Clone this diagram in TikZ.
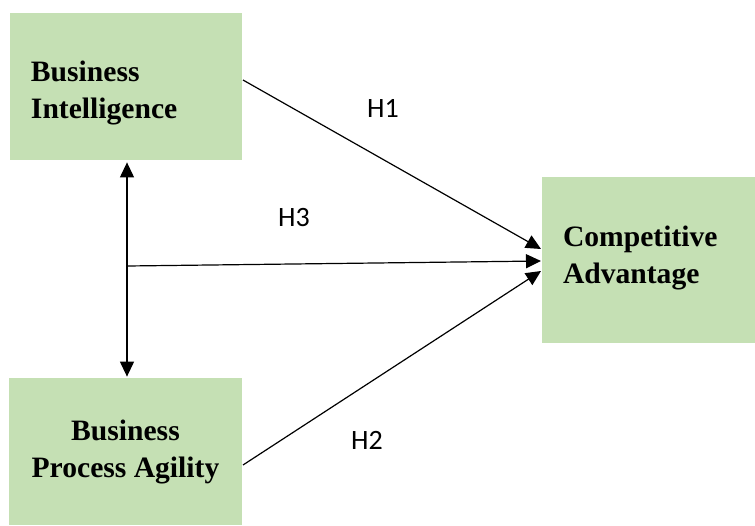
\documentclass[tikz,border=0pt]{standalone}
\usepackage{fontspec}
\setmainfont{Liberation Serif}
\newfontfamily\labelfont{Carlito}
\usetikzlibrary{arrows.meta,calc}
\definecolor{boxgreen}{HTML}{C5E0B4}

\begin{document}
\begin{tikzpicture}[x=0.5pt,y=-0.5pt,
    var/.style={rectangle,fill=boxgreen,inner ysep=0pt,
      font=\fontsize{14.8}{18.5}\selectfont\bfseries},
    hyp/.style={font=\labelfont\fontsize{14}{16}\selectfont},
    link/.style={line width=0.6pt,-{Triangle[length=7.5pt,width=7pt]}}]
    \useasboundingbox(0,0)rectangle(755,525);
    % constructs
    \node[var,minimum width=116pt,minimum height=73.5pt,inner xsep=10.5pt,
      text width=95pt,align=left](BI) at (126,86.5){\rule{0pt}{16.5pt}Business\\Intelligence};
    \node[var,minimum width=106.5pt,minimum height=83pt,inner xsep=10.5pt,
      text width=85.5pt,align=left](CA) at (648.5,260){Competitive\\Advantage\rule[-5pt]{0pt}{1pt}};
    \node[var,minimum width=116.5pt,minimum height=73.5pt,
      align=center](BPA) at (125.5,451.5){Business\\Process Agility};
    % end points
    \coordinate(biout) at (243,80);
    \coordinate(bpaout) at (243,465);
    \coordinate(jn) at (127,266);
    \coordinate(h1in) at (541,249);
    \coordinate(h3in) at (541,261);
    \coordinate(h2in) at (541,271);
    % paths
    \draw[link](biout)--(h1in);
    \draw[link](jn)--(h3in);
    \draw[link](bpaout)--(h2in);
    \draw[link,{Triangle[length=7.5pt,width=7pt]}-{Triangle[length=7.5pt,width=7pt]},
      shorten <=1pt,shorten >=0.5pt]($(BI.south)+(1,0)$)--($(BPA.north)+(1.5,0)$);
    % labels
    \node[hyp](H1) at (383,108){H1};
    \node[hyp](H3) at (294,218){H3};
    \node[hyp](H2) at (367,440){H2};
\end{tikzpicture}
\end{document}
